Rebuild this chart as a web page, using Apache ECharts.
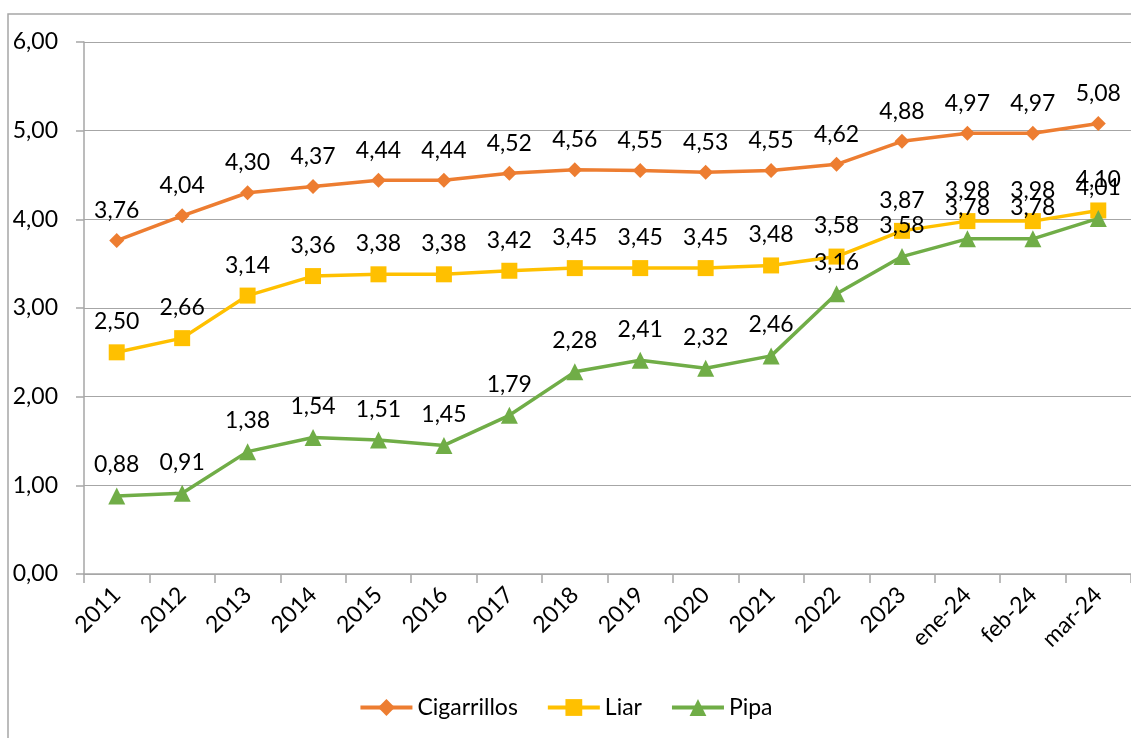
<!DOCTYPE html>
<html>
<head>
<meta charset="utf-8">
<script src="https://cdn.jsdelivr.net/npm/echarts@6/dist/echarts.min.js"></script>
<style>
  html, body { margin: 0; padding: 0; background: #fff; }
  #chart { width: 1131px; height: 738px; }
</style>
</head>
<body>
<div id="chart"></div>
<script>
var categories = ['2011', '2012', '2013', '2014', '2015', '2016', '2017', '2018', '2019', '2020', '2021', '2022', '2023', 'ene-24', 'feb-24', 'mar-24'];
var cigarrillos = [3.76, 4.04, 4.30, 4.37, 4.44, 4.44, 4.52, 4.56, 4.55, 4.53, 4.55, 4.62, 4.88, 4.97, 4.97, 5.08];
var liar = [2.50, 2.66, 3.14, 3.36, 3.38, 3.38, 3.42, 3.45, 3.45, 3.45, 3.48, 3.58, 3.87, 3.98, 3.98, 4.10];
var pipa = [0.88, 0.91, 1.38, 1.54, 1.51, 1.45, 1.79, 2.28, 2.41, 2.32, 2.46, 3.16, 3.58, 3.78, 3.78, 4.01];

var fontFam = 'Lato, "Open Sans", sans-serif';
var fs = 23;
function fmt(v) { return Number(v).toFixed(2).replace('.', ','); }

var chartDom = document.getElementById('chart');
var myChart = echarts.init(chartDom);

function makeSeries(name, data, color, symbol, size) {
  return {
    name: name,
    type: 'line',
    data: data,
    symbol: symbol,
    symbolSize: size,
    lineStyle: { color: color, width: 3.5 },
    itemStyle: { color: color },
    label: {
      show: true,
      position: 'top',
      distance: 11,
      fontFamily: fontFam,
      fontSize: fs,
      color: '#000',
      formatter: function (p) { return fmt(p.value); }
    },
    labelLayout: { hideOverlap: false },
    emphasis: { disabled: true }
  };
}

var option = {
  animation: false,
  graphic: [{
    type: 'rect',
    shape: { x: 8, y: 14, width: 1140, height: 740 },
    style: { fill: 'none', stroke: '#a6a6a6', lineWidth: 1.5 },
    silent: true
  }],
  legend: {
    bottom: 14,
    left: 'center',
    itemWidth: 52,
    itemHeight: 21,
    itemGap: 28,
    lineStyle: { width: 4 },
    textStyle: { fontFamily: fontFam, fontSize: fs, color: '#000' },
    data: ['Cigarrillos', 'Liar', 'Pipa']
  },
  grid: { left: 84, top: 42, width: 1054, height: 532 },
  xAxis: {
    type: 'category',
    data: categories,
    boundaryGap: true,
    axisLine: { lineStyle: { color: '#a6a6a6', width: 1.5 } },
    axisTick: { show: true, length: 9, lineStyle: { color: '#a6a6a6', width: 1.5 } },
    axisLabel: {
      rotate: 45,
      interval: 0,
      margin: 17,
      fontFamily: fontFam,
      fontSize: fs,
      color: '#000'
    }
  },
  yAxis: {
    type: 'value',
    min: 0,
    max: 6,
    interval: 1,
    axisLine: { show: true, lineStyle: { color: '#a6a6a6', width: 1.5 } },
    axisTick: { show: true, length: 8, inside: false, lineStyle: { color: '#a6a6a6', width: 1.5 } },
    splitLine: { lineStyle: { color: '#a6a6a6', width: 1.2 } },
    axisLabel: {
      margin: 26,
      fontFamily: fontFam,
      fontSize: fs,
      color: '#000',
      formatter: function (v) { return fmt(v); }
    }
  },
  series: [
    makeSeries('Cigarrillos', cigarrillos, '#ED7D31', 'diamond', 15),
    makeSeries('Liar', liar, '#FFC000', 'rect', 16),
    makeSeries('Pipa', pipa, '#70AD47', 'triangle', 17)
  ]
};

option && myChart.setOption(option);
</script>
</body>
</html>
